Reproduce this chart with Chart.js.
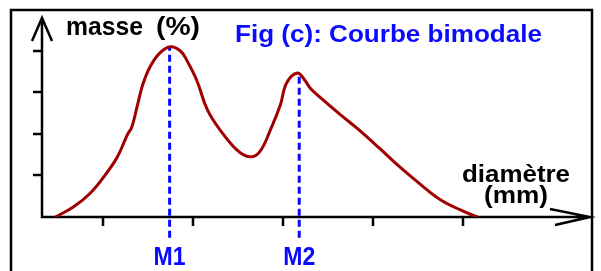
<!DOCTYPE html>
<html>
<head>
<meta charset="utf-8">
<script src="https://cdn.jsdelivr.net/npm/chart.js@4.4.1/dist/chart.umd.min.js"></script>
<style>
  html, body { margin: 0; padding: 0; background: #fff; }
  #wrap { width: 601px; height: 271px; }
</style>
</head>
<body>
<div id="wrap"><canvas id="courbe" width="601" height="271"></canvas></div>
<script>
// diamètre (unités des graduations) et masse (%)
const diametre = [0.47, 0.67, 0.86, 1.04, 1.16, 1.27, 1.32, 1.38, 1.44, 1.52, 1.63, 1.75, 1.86, 1.93, 2.04, 2.16, 2.30, 2.49, 2.63, 2.74, 2.86, 2.97, 3.04, 3.16, 3.24, 3.30, 3.41, 3.63, 3.86, 4.08, 4.30, 4.52, 4.74, 4.97, 5.16];
const masse    = [0.00, 0.24, 0.58, 1.06, 1.45, 1.98, 2.17, 2.67, 3.18, 3.61, 3.95, 4.10, 4.00, 3.78, 3.30, 2.58, 2.10, 1.61, 1.45, 1.57, 2.10, 2.70, 3.23, 3.47, 3.30, 3.11, 2.89, 2.48, 2.07, 1.64, 1.20, 0.80, 0.43, 0.17, 0.00];

const modes = ["M1", "M2"];
const modeX = [1.74, 3.18];
const modeY = [4.10, 3.47];

const xTicks = [1, 2, 3, 4, 5];
const yTicks = [1, 2, 3, 4];

const FONT = "'Liberation Sans', Arial, sans-serif";

function fitText(ctx, str, x, y, size, width, color) {
  ctx.save();
  ctx.font = "bold " + size + "px " + FONT;
  ctx.fillStyle = color;
  ctx.textBaseline = "alphabetic";
  const w = ctx.measureText(str).width;
  ctx.translate(x, y);
  ctx.scale(width / w, 1);
  ctx.fillText(str, 0, 0);
  ctx.restore();
}

const axesPlugin = {
  id: "axes",
  beforeDraw(chart) {
    const ctx = chart.ctx;
    ctx.save();
    ctx.fillStyle = "#fff";
    ctx.fillRect(0, 0, chart.width, chart.height);
    ctx.strokeStyle = "#000";
    ctx.lineWidth = 2.5;
    ctx.strokeRect(11, 10, 581, 300);
    ctx.restore();
  },
  beforeDatasetsDraw(chart) {
    const ctx = chart.ctx;
    const xs = chart.scales.x, ys = chart.scales.y;
    const x0 = xs.getPixelForValue(xs.min), x1 = xs.getPixelForValue(xs.max);
    const y0 = ys.getPixelForValue(0), y1 = ys.getPixelForValue(ys.max);
    ctx.save();
    ctx.strokeStyle = "#000";
    ctx.lineWidth = 2.5;
    ctx.lineCap = "butt";
    ctx.beginPath();
    // axes
    ctx.moveTo(x0, y1); ctx.lineTo(x0, y0); ctx.lineTo(x1, y0);
    // flèches
    ctx.moveTo(x0 - 10, y1 + 23); ctx.lineTo(x0, y1); ctx.lineTo(x0 + 10, y1 + 23);
    ctx.moveTo(x1 - 40, y0 - 8); ctx.lineTo(x1, y0); ctx.lineTo(x1 - 35, y0 + 8);
    // graduations
    yTicks.forEach(v => {
      const p = Math.round(ys.getPixelForValue(v));
      ctx.moveTo(x0 - 9, p); ctx.lineTo(x0, p);
    });
    xTicks.forEach(v => {
      const p = Math.round(xs.getPixelForValue(v));
      ctx.moveTo(p, y0); ctx.lineTo(p, y0 + 9);
    });
    ctx.stroke();
    ctx.restore();
  },
  afterDraw(chart) {
    const ctx = chart.ctx;
    const xs = chart.scales.x;
    fitText(ctx, "masse", 66, 35, 25, 77, "#000");
    fitText(ctx, "(%)", 156, 35, 26, 44, "#000");
    fitText(ctx, "Fig (c): Courbe bimodale", 235, 42, 24, 307, "#0a0aff");
    fitText(ctx, "diamètre", 462, 182, 23, 108, "#000");
    fitText(ctx, "(mm)", 484, 203, 23, 64, "#000");
    modes.forEach((m, i) => {
      const p = xs.getPixelForValue(modeX[i]);
      fitText(ctx, m, p - 16, 265, 25, 32, "#0a0aff");
    });
  }
};

const modeSets = modes.map((m, i) => ({
  label: m,
  data: [{ x: modeX[i], y: -0.5 }, { x: modeX[i], y: modeY[i] }],
  borderColor: "#0a0aff",
  borderWidth: 3,
  borderDash: [7, 4],
  pointRadius: 0,
  clip: false,
  order: 2
}));

new Chart(document.getElementById("courbe"), {
  type: "line",
  data: {
    datasets: [
      {
        label: "masse",
        data: diametre.map((d, i) => ({ x: d, y: masse[i] })),
        borderColor: "#a00000",
        borderWidth: 3,
        pointRadius: 0,
        tension: 0.4,
        fill: false,
        order: 1
      },
      ...modeSets
    ]
  },
  options: {
    responsive: false,
    animation: false,
    devicePixelRatio: 1,
    layout: { padding: { left: 42, right: 11, top: 18, bottom: 54 } },
    plugins: { legend: { display: false }, tooltip: { enabled: false }, title: { display: false } },
    scales: {
      x: { type: "linear", min: 0.322, max: 6.411, display: false },
      y: { type: "linear", min: 0, max: 4.795, display: false }
    }
  },
  plugins: [axesPlugin]
});
</script>
</body>
</html>
